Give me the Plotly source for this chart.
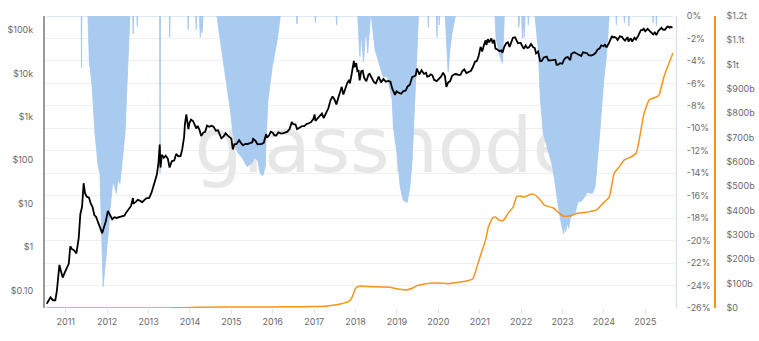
import plotly.graph_objects as go

# ---- Bitcoin price (USD) ----
price = [
    ("2010-07-17", 0.05), ("2010-08-01", 0.06), ("2010-08-20", 0.07), ("2010-09-10", 0.06),
    ("2010-10-01", 0.06), ("2010-10-15", 0.10), ("2010-11-06", 0.39), ("2010-11-20", 0.28),
    ("2010-12-05", 0.20), ("2010-12-20", 0.25), ("2011-01-10", 0.32), ("2011-01-28", 0.42),
    ("2011-02-10", 1.05), ("2011-02-25", 0.90), ("2011-03-15", 0.85), ("2011-04-05", 0.72),
    ("2011-04-25", 1.60), ("2011-05-10", 5.8), ("2011-05-25", 8.5), ("2011-06-08", 29.6),
    ("2011-06-20", 17.5), ("2011-07-05", 14.5), ("2011-07-25", 13.8), ("2011-08-10", 10.0),
    ("2011-08-25", 8.5), ("2011-09-10", 5.5), ("2011-09-25", 5.0), ("2011-10-10", 4.0),
    ("2011-10-25", 3.0), ("2011-11-18", 2.1), ("2011-12-05", 2.9), ("2011-12-20", 3.9),
    ("2012-01-08", 6.8), ("2012-01-25", 5.6), ("2012-02-15", 4.4), ("2012-03-05", 4.9),
    ("2012-03-25", 4.7), ("2012-04-15", 4.9), ("2012-05-10", 5.0), ("2012-06-01", 5.3),
    ("2012-06-20", 6.4), ("2012-07-10", 7.4), ("2012-07-30", 8.9), ("2012-08-16", 13.5),
    ("2012-08-19", 10.0), ("2012-09-10", 11.0), ("2012-09-28", 12.3), ("2012-10-15", 11.8),
    ("2012-11-05", 10.8), ("2012-11-28", 12.4), ("2012-12-15", 13.5), ("2013-01-05", 13.5),
    ("2013-01-25", 17.5), ("2013-02-10", 24.0), ("2013-02-28", 33.4), ("2013-03-15", 47.0),
    ("2013-03-30", 92.0), ("2013-04-09", 230.0), ("2013-04-16", 68.0), ("2013-04-28", 134.0),
    ("2013-05-15", 114.0), ("2013-06-01", 128.0), ("2013-06-20", 108.0), ("2013-07-05", 68.0),
    ("2013-07-25", 95.0), ("2013-08-15", 99.0), ("2013-09-01", 140.0), ("2013-09-20", 124.0),
    ("2013-10-10", 125.0), ("2013-10-25", 180.0), ("2013-11-10", 340.0), ("2013-11-18", 700.0),
    ("2013-11-30", 1130.0), ("2013-12-08", 750.0), ("2013-12-18", 520.0), ("2013-12-28", 730.0),
    ("2014-01-10", 860.0), ("2014-01-28", 800.0), ("2014-02-10", 680.0), ("2014-02-25", 540.0),
    ("2014-03-10", 620.0), ("2014-03-28", 480.0), ("2014-04-10", 360.0), ("2014-04-28", 430.0),
    ("2014-05-15", 450.0), ("2014-06-01", 630.0), ("2014-06-20", 590.0), ("2014-07-10", 620.0),
    ("2014-07-28", 590.0), ("2014-08-18", 480.0), ("2014-09-05", 490.0), ("2014-09-22", 400.0),
    ("2014-10-05", 320.0), ("2014-10-25", 355.0), ("2014-11-12", 420.0), ("2014-11-28", 375.0),
    ("2014-12-15", 345.0), ("2015-01-01", 315.0), ("2015-01-14", 178.0), ("2015-01-28", 235.0),
    ("2015-02-15", 235.0), ("2015-03-10", 290.0), ("2015-03-28", 248.0), ("2015-04-14", 220.0),
    ("2015-05-05", 238.0), ("2015-05-25", 237.0), ("2015-06-15", 247.0), ("2015-07-05", 260.0),
    ("2015-07-12", 310.0), ("2015-08-01", 282.0), ("2015-08-20", 233.0), ("2015-09-10", 238.0),
    ("2015-09-28", 239.0), ("2015-10-15", 255.0), ("2015-11-04", 400.0), ("2015-11-12", 330.0),
    ("2015-11-30", 375.0), ("2015-12-15", 455.0), ("2016-01-01", 432.0), ("2016-01-15", 375.0),
    ("2016-02-01", 372.0), ("2016-02-20", 440.0), ("2016-03-10", 415.0), ("2016-03-30", 415.0),
    ("2016-04-20", 440.0), ("2016-05-10", 455.0), ("2016-05-30", 530.0), ("2016-06-17", 755.0),
    ("2016-07-01", 675.0), ("2016-07-20", 665.0), ("2016-08-03", 520.0), ("2016-08-25", 578.0),
    ("2016-09-15", 610.0), ("2016-10-05", 612.0), ("2016-10-28", 690.0), ("2016-11-15", 710.0),
    ("2016-12-05", 760.0), ("2016-12-25", 895.0), ("2017-01-04", 1130.0), ("2017-01-12", 810.0),
    ("2017-01-30", 920.0), ("2017-02-20", 1050.0), ("2017-03-10", 1200.0), ("2017-03-25", 940.0),
    ("2017-04-15", 1180.0), ("2017-05-05", 1550.0), ("2017-05-25", 2400.0), ("2017-06-12", 2950.0),
    ("2017-06-30", 2480.0), ("2017-07-16", 1930.0), ("2017-08-01", 2720.0), ("2017-08-20", 4100.0),
    ("2017-09-01", 4900.0), ("2017-09-15", 3250.0), ("2017-09-30", 4350.0), ("2017-10-20", 6000.0),
    ("2017-11-07", 7100.0), ("2017-11-12", 5900.0), ("2017-11-28", 9800.0), ("2017-12-08", 16500.0),
    ("2017-12-17", 19300.0), ("2017-12-22", 13800.0), ("2018-01-06", 17200.0), ("2018-01-17", 11200.0),
    ("2018-01-28", 11500.0), ("2018-02-06", 6900.0), ("2018-02-20", 11200.0), ("2018-03-05", 11500.0),
    ("2018-03-18", 7900.0), ("2018-04-06", 6600.0), ("2018-04-25", 9400.0), ("2018-05-05", 9800.0),
    ("2018-05-28", 7100.0), ("2018-06-12", 6300.0), ("2018-06-29", 5900.0), ("2018-07-24", 8400.0),
    ("2018-08-14", 6200.0), ("2018-09-04", 7400.0), ("2018-09-25", 6400.0), ("2018-10-15", 6700.0),
    ("2018-11-05", 6400.0), ("2018-11-20", 4500.0), ("2018-12-15", 3200.0), ("2018-12-28", 3850.0),
    ("2019-01-15", 3600.0), ("2019-02-07", 3400.0), ("2019-02-25", 3850.0), ("2019-03-20", 4050.0),
    ("2019-04-05", 5000.0), ("2019-04-25", 5450.0), ("2019-05-15", 8200.0), ("2019-05-30", 8600.0),
    ("2019-06-15", 8900.0), ("2019-06-26", 12900.0), ("2019-07-05", 11000.0), ("2019-07-17", 9400.0),
    ("2019-08-06", 11800.0), ("2019-08-28", 9700.0), ("2019-09-15", 10300.0), ("2019-09-25", 8400.0),
    ("2019-10-10", 8600.0), ("2019-10-26", 9500.0), ("2019-11-10", 9000.0), ("2019-11-25", 7100.0),
    ("2019-12-17", 6650.0), ("2020-01-05", 7400.0), ("2020-01-25", 8400.0), ("2020-02-12", 10350.0),
    ("2020-02-28", 8700.0), ("2020-03-12", 4900.0), ("2020-03-28", 6200.0), ("2020-04-15", 6650.0),
    ("2020-04-30", 8650.0), ("2020-05-20", 9500.0), ("2020-06-05", 9650.0), ("2020-06-25", 9250.0),
    ("2020-07-15", 9200.0), ("2020-07-31", 11350.0), ("2020-08-17", 12300.0), ("2020-09-05", 10200.0),
    ("2020-09-25", 10750.0), ("2020-10-15", 11500.0), ("2020-10-31", 13800.0), ("2020-11-20", 18700.0),
    ("2020-12-05", 19100.0), ("2020-12-20", 24000.0), ("2021-01-08", 40600.0), ("2021-01-22", 32000.0),
    ("2021-02-08", 46400.0), ("2021-02-21", 57500.0), ("2021-02-28", 45000.0), ("2021-03-13", 61200.0),
    ("2021-03-25", 51700.0), ("2021-04-13", 63500.0), ("2021-04-25", 49000.0), ("2021-05-08", 58800.0),
    ("2021-05-19", 37000.0), ("2021-06-05", 35500.0), ("2021-06-22", 32500.0), ("2021-07-10", 33800.0),
    ("2021-07-20", 29800.0), ("2021-08-05", 40800.0), ("2021-08-22", 49300.0), ("2021-09-06", 51700.0),
    ("2021-09-21", 40700.0), ("2021-10-06", 55300.0), ("2021-10-20", 65900.0), ("2021-11-08", 67500.0),
    ("2021-11-20", 59700.0), ("2021-12-04", 49200.0), ("2021-12-27", 50700.0), ("2022-01-10", 41800.0),
    ("2022-01-24", 36700.0), ("2022-02-10", 43600.0), ("2022-02-24", 38300.0), ("2022-03-10", 39400.0),
    ("2022-03-29", 47400.0), ("2022-04-15", 40500.0), ("2022-05-01", 38400.0), ("2022-05-12", 28900.0),
    ("2022-05-30", 31800.0), ("2022-06-18", 19000.0), ("2022-07-01", 19300.0), ("2022-07-20", 23200.0),
    ("2022-08-14", 24300.0), ("2022-08-30", 19800.0), ("2022-09-15", 19700.0), ("2022-10-05", 20200.0),
    ("2022-10-30", 20600.0), ("2022-11-09", 15900.0), ("2022-11-21", 15800.0), ("2022-12-10", 17100.0),
    ("2022-12-30", 16600.0), ("2023-01-15", 20900.0), ("2023-01-31", 23100.0), ("2023-02-16", 23700.0),
    ("2023-03-10", 20200.0), ("2023-03-20", 28000.0), ("2023-04-14", 30500.0), ("2023-04-30", 29300.0),
    ("2023-05-20", 26900.0), ("2023-06-15", 25100.0), ("2023-06-30", 30500.0), ("2023-07-15", 30300.0),
    ("2023-08-05", 29100.0), ("2023-08-20", 26100.0), ("2023-09-10", 25800.0), ("2023-09-30", 27000.0),
    ("2023-10-20", 29700.0), ("2023-11-05", 35000.0), ("2023-11-25", 37700.0), ("2023-12-08", 44000.0),
    ("2023-12-30", 42100.0), ("2024-01-11", 46600.0), ("2024-01-23", 39500.0), ("2024-02-10", 47100.0),
    ("2024-02-28", 62500.0), ("2024-03-13", 73100.0), ("2024-03-20", 67800.0), ("2024-04-05", 68500.0),
    ("2024-04-20", 64900.0), ("2024-05-01", 58300.0), ("2024-05-20", 71400.0), ("2024-06-07", 69300.0),
    ("2024-06-24", 60300.0), ("2024-07-05", 56700.0), ("2024-07-28", 68200.0), ("2024-08-05", 54000.0),
    ("2024-08-25", 64200.0), ("2024-09-06", 53900.0), ("2024-09-27", 65800.0), ("2024-10-10", 60300.0),
    ("2024-10-29", 72700.0), ("2024-11-12", 88000.0), ("2024-11-22", 98900.0), ("2024-12-05", 98600.0),
    ("2024-12-17", 106100.0), ("2024-12-30", 92800.0), ("2025-01-07", 96900.0), ("2025-01-21", 106100.0),
    ("2025-02-05", 96600.0), ("2025-02-27", 84700.0), ("2025-03-10", 78600.0), ("2025-03-25", 87500.0),
    ("2025-04-08", 76300.0), ("2025-04-25", 94700.0), ("2025-05-10", 104000.0), ("2025-05-22", 111700.0),
    ("2025-06-05", 101500.0), ("2025-06-22", 100900.0), ("2025-07-03", 109600.0), ("2025-07-14", 119800.0),
    ("2025-07-28", 118000.0), ("2025-08-02", 112500.0), ("2025-08-14", 118300.0), ("2025-08-28", 112000.0),
]

# ---- Realized cap (USD billions) ----
realized_cap = [
    ("2010-07-17", 0.0), ("2011-06-15", 0.05), ("2012-06-01", 0.1), ("2013-06-01", 0.4),
    ("2013-12-01", 1.5), ("2014-01-15", 2.5), ("2014-06-01", 3.5), ("2015-01-01", 3.8),
    ("2016-01-01", 4.3), ("2016-07-01", 5.0), ("2017-01-01", 6.0), ("2017-04-01", 7.5),
    ("2017-06-01", 10.5), ("2017-08-01", 14.0), ("2017-09-15", 20.0), ("2017-10-25", 25.0),
    ("2017-11-20", 35.0), ("2017-12-05", 48.0), ("2017-12-15", 62.0), ("2018-01-01", 80.0),
    ("2018-01-20", 88.0), ("2018-03-01", 90.0), ("2018-05-01", 88.0), ("2018-07-01", 87.0),
    ("2018-09-01", 86.0), ("2018-11-01", 85.0), ("2018-12-20", 80.0), ("2019-03-25", 74.0),
    ("2019-05-20", 82.0), ("2019-07-01", 93.0), ("2019-08-20", 98.0), ("2019-11-01", 103.0),
    ("2020-02-01", 102.0), ("2020-03-25", 100.0), ("2020-05-15", 103.0), ("2020-07-15", 107.0),
    ("2020-09-15", 112.0), ("2020-10-30", 119.0), ("2020-11-20", 144.0), ("2020-12-17", 185.0),
    ("2021-01-23", 238.0), ("2021-02-21", 279.0), ("2021-03-18", 333.0), ("2021-04-23", 370.0),
    ("2021-05-19", 374.0), ("2021-06-15", 362.0), ("2021-07-23", 358.0), ("2021-08-19", 374.0),
    ("2021-09-16", 395.0), ("2021-10-23", 415.0), ("2021-11-20", 456.0), ("2021-12-17", 460.0),
    ("2022-01-31", 456.0), ("2022-03-07", 464.0), ("2022-04-20", 468.0), ("2022-06-03", 452.0),
    ("2022-06-25", 440.0), ("2022-07-24", 423.0), ("2022-10-12", 411.0), ("2022-12-02", 390.0),
    ("2023-01-07", 378.0), ("2023-02-28", 378.0), ("2023-05-19", 390.0), ("2023-08-18", 395.0),
    ("2023-10-27", 403.0), ("2023-12-27", 432.0), ("2024-02-17", 456.0), ("2024-04-01", 555.0),
    ("2024-05-15", 580.0), ("2024-06-27", 608.0), ("2024-08-28", 621.0), ("2024-10-12", 637.0),
    ("2024-11-07", 690.0), ("2024-12-20", 800.0), ("2025-02-03", 855.0), ("2025-04-05", 867.0),
    ("2025-05-01", 875.0), ("2025-06-14", 950.0), ("2025-07-28", 1007.0), ("2025-09-01", 1048.0),
]

# ---- Realized cap drawdown from ATH (%) ----
drawdown = [
    ("2010-07-17", 0), ("2011-05-17", 0), ("2011-05-20", -4.6), ("2011-05-23", 0),
    ("2011-07-16", 0), ("2011-07-24", -3.0), ("2011-07-30", -4.5), ("2011-08-01", -2.5),
    ("2011-08-08", -5.0), ("2011-08-22", -6.3), ("2011-09-03", -8.4), ("2011-09-16", -10.4),
    ("2011-09-30", -11.9), ("2011-10-14", -13.4), ("2011-10-30", -14.0), ("2011-11-13", -19.3),
    ("2011-11-27", -24.1), ("2011-12-13", -22.4), ("2011-12-29", -20.8), ("2012-01-11", -19.3),
    ("2012-01-26", -17.3), ("2012-02-03", -16.1), ("2012-02-12", -15.5), ("2012-02-21", -14.8),
    ("2012-03-08", -15.2), ("2012-03-21", -15.8), ("2012-04-05", -14.6), ("2012-04-23", -14.9),
    ("2012-05-20", -11.9), ("2012-06-07", -10.4), ("2012-06-25", -6.0), ("2012-07-20", 0),
    ("2012-08-14", 0), ("2012-08-18", -1.6), ("2012-08-22", 0),
    ("2012-09-20", 0), ("2012-09-23", -0.9), ("2012-09-26", 0),
    ("2013-04-08", 0), ("2013-04-12", -14.0), ("2013-04-16", 0),
    ("2013-07-02", 0), ("2013-07-06", -1.9), ("2013-07-10", 0),
    ("2013-12-12", 0), ("2013-12-16", -1.2), ("2013-12-20", 0),
    ("2014-02-20", 0), ("2014-02-25", -1.2), ("2014-03-02", 0),
    ("2014-03-25", 0), ("2014-04-02", -1.9), ("2014-04-10", -0.8), ("2014-04-18", -1.5),
    ("2014-04-26", 0),
    ("2014-08-28", 0), ("2014-09-20", -1.8), ("2014-10-18", -3.9), ("2014-11-20", -6.0),
    ("2014-12-20", -8.1), ("2015-01-15", -10.4), ("2015-02-05", -11.5), ("2015-03-01", -12.2),
    ("2015-04-05", -12.6), ("2015-05-20", -13.4), ("2015-07-01", -13.1), ("2015-07-25", -12.6),
    ("2015-08-25", -12.9), ("2015-09-12", -14.0), ("2015-10-08", -14.2), ("2015-10-27", -13.4),
    ("2015-11-03", -11.0), ("2015-11-20", -7.5), ("2015-12-28", -4.5), ("2016-01-22", -3.0),
    ("2016-02-10", -2.1), ("2016-03-08", 0),
    ("2016-07-28", 0), ("2016-08-02", -0.7), ("2016-08-06", 0),
    ("2017-01-08", 0), ("2017-01-12", -0.6), ("2017-01-16", 0),
    ("2017-07-14", 0), ("2017-07-18", -0.8), ("2017-07-22", 0),
    ("2018-01-20", 0), ("2018-02-08", -3.6), ("2018-02-20", -1.5), ("2018-03-12", -4.1),
    ("2018-03-26", -2.0), ("2018-04-06", -1.5), ("2018-04-18", -3.3), ("2018-05-02", -1.0),
    ("2018-05-12", 0), ("2018-05-20", 0), ("2018-06-05", -1.5), ("2018-06-22", -3.0),
    ("2018-08-05", -4.5), ("2018-09-01", -5.4), ("2018-10-10", -5.4), ("2018-11-20", -7.5),
    ("2018-12-01", -9.9), ("2019-01-05", -12.5), ("2019-01-30", -15.2), ("2019-02-25", -16.4),
    ("2019-04-01", -16.6), ("2019-04-25", -15.2), ("2019-05-15", -12.8), ("2019-05-25", -10.4),
    ("2019-06-10", -7.5), ("2019-06-28", -3.0), ("2019-07-10", 0),
    ("2019-10-01", 0), ("2019-10-05", -1.0), ("2019-10-09", 0),
    ("2019-12-15", 0), ("2019-12-20", -1.9), ("2019-12-25", 0),
    ("2020-01-05", 0), ("2020-01-09", -0.8), ("2020-01-13", 0),
    ("2020-03-03", 0), ("2020-03-15", -2.5), ("2020-03-28", -5.0), ("2020-04-12", -3.0),
    ("2020-05-01", -1.5), ("2020-05-30", 0),
    ("2021-05-15", 0), ("2021-05-25", -2.0), ("2021-06-25", -3.5), ("2021-07-20", -4.2),
    ("2021-08-05", 0),
    ("2021-12-05", 0), ("2021-12-12", -1.0), ("2021-12-18", 0),
    ("2022-01-05", 0), ("2022-01-12", -2.0), ("2022-01-20", -0.5), ("2022-01-28", -1.9),
    ("2022-02-05", 0),
    ("2022-03-01", 0), ("2022-03-05", -0.8), ("2022-03-09", 0),
    ("2022-05-04", 0), ("2022-06-01", -3.0), ("2022-06-20", -7.5), ("2022-07-15", -10.4),
    ("2022-08-28", -11.9), ("2022-10-05", -13.4), ("2022-11-01", -15.2), ("2022-11-25", -17.0),
    ("2022-12-28", -18.8), ("2023-01-10", -19.4), ("2023-01-20", -18.6), ("2023-01-30", -19.2),
    ("2023-02-12", -18.4), ("2023-02-25", -18.9), ("2023-03-10", -18.0), ("2023-04-22", -17.5),
    ("2023-05-15", -16.6), ("2023-06-25", -16.4), ("2023-08-08", -15.7), ("2023-09-20", -15.8),
    ("2023-10-15", -15.2), ("2023-11-01", -13.4), ("2023-11-28", -10.0), ("2023-12-28", -6.0),
    ("2024-01-28", -3.0), ("2024-02-15", 0),
    ("2024-04-16", 0), ("2024-04-20", -0.8), ("2024-04-24", 0),
    ("2024-06-26", 0), ("2024-06-30", -0.6), ("2024-07-04", 0),
    ("2024-08-04", 0), ("2024-08-08", -0.9), ("2024-08-12", 0),
    ("2025-03-06", 0), ("2025-03-10", -0.6), ("2025-03-14", 0),
    ("2025-04-04", 0), ("2025-04-08", -0.9), ("2025-04-12", 0),
    ("2025-09-01", 0),
]

# ---- axis ticks ----
price_ticks = [0.1, 1, 10, 100, 1000, 10000, 100000]
price_tick_text = ["$0.10", "$1", "$10", "$100", "$1k", "$10k", "$100k"]
pct_ticks = list(range(-26, 1, 2))
pct_tick_text = [f"{v}%" for v in pct_ticks]
cap_ticks = list(range(0, 1201, 100))
cap_tick_text = ["$0", "$100b", "$200b", "$300b", "$400b", "$500b", "$600b", "$700b",
                 "$800b", "$900b", "$1t", "$1.1t", "$1.2t"]

FONT = "Inter"
TICK_FONT = dict(family=FONT, size=9, color="#6a6a6a")
BLUE = "#aacbf0"
ORANGE = "#f7931a"

fig = go.Figure()

# watermark, drawn first so every series sits on top of it
fig.add_trace(go.Scatter(
    x=["2018-10-05"], y=[-12.2], mode="text", text=["glassnode"],
    textfont=dict(family="DejaVu Sans", size=76, color="#e7e7e7"),
    hoverinfo="skip", showlegend=False, xaxis="x", yaxis="y",
))

fig.add_trace(go.Scatter(
    x=[d for d, _ in drawdown], y=[v for _, v in drawdown],
    mode="lines", fill="tozeroy", fillcolor=BLUE,
    line=dict(color="#a3c6ef", width=0.8),
    name="Realized Cap Drawdown", showlegend=False, xaxis="x", yaxis="y",
))

fig.add_trace(go.Scatter(
    x=[d for d, _ in price], y=[v for _, v in price],
    mode="lines", line=dict(color="#000000", width=1.8),
    name="Price", showlegend=False, xaxis="x", yaxis="y2",
))

fig.add_trace(go.Scatter(
    x=[d for d, _ in realized_cap], y=[v for _, v in realized_cap],
    mode="lines", line=dict(color=ORANGE, width=1.5, shape="spline", smoothing=0.4),
    name="Realized Cap", showlegend=False, xaxis="x", yaxis="y3",
))

fig.update_layout(
    width=759, height=341,
    margin=dict(l=45, r=44, t=16, b=33, autoexpand=False),
    paper_bgcolor="white", plot_bgcolor="white",
    font=dict(family=FONT, size=9, color="#6a6a6a"),
    xaxis=dict(
        domain=[0, 0.9418], automargin=False,
        type="date", range=["2010-07-02", "2025-09-28"],
        tickvals=[f"{y}-01-01" for y in range(2011, 2026)],
        ticktext=[str(y) for y in range(2011, 2026)],
        ticks="outside", ticklen=5, tickcolor="#e3e3e3",
        showgrid=False, showline=False, zeroline=False,
        tickfont=TICK_FONT,
    ),
    yaxis=dict(
        side="right", range=[-26, 0], automargin=False,
        tickvals=pct_ticks, ticktext=pct_tick_text,
        showgrid=True, gridcolor="#f0f0f0", gridwidth=1,
        showline=True, linecolor="#cfe1f6", linewidth=1,
        zeroline=False, ticks="", ticklabelstandoff=8,
        tickfont=TICK_FONT,
    ),
    yaxis2=dict(
        overlaying="y", side="left", type="log", automargin=False,
        range=[-1.40, 5.32],
        tickvals=price_ticks, ticktext=price_tick_text,
        showgrid=False, zeroline=False,
        showline=True, linecolor="#9a9a9a", linewidth=2,
        ticks="", ticklabelstandoff=8,
        tickfont=TICK_FONT,
    ),
    yaxis3=dict(
        overlaying="y", side="right", anchor="free", position=1.0, automargin=False,
        range=[0, 1200],
        tickvals=cap_ticks, ticktext=cap_tick_text,
        showgrid=False, zeroline=False,
        showline=True, linecolor=ORANGE, linewidth=1.5,
        ticks="", ticklabelstandoff=9,
        tickfont=TICK_FONT,
    ),
)

fig.write_html("out.html")
